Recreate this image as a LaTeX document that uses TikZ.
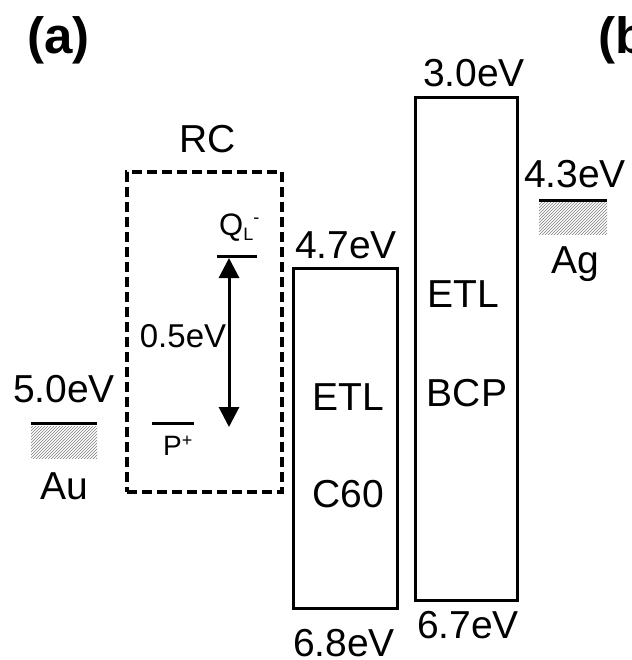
\documentclass[tikz,border=0pt]{standalone}
\usepackage{fontspec}
\setmainfont{Liberation Sans}
\usetikzlibrary{arrows.meta,patterns}
\begin{document}
\begin{tikzpicture}[x=1pt,y=-1pt,
  lbl/.style={inner sep=0pt, anchor=base, font=\fontsize{39}{39}\selectfont},
  lblsm/.style={inner sep=0pt, anchor=base, font=\fontsize{33}{33}\selectfont},
  layer/.style={draw, line width=3pt, inner sep=0pt, outer sep=0pt},
  rcbox/.style={draw, line width=3.5pt, dash pattern=on 10pt off 5pt, inner sep=0pt, outer sep=0pt},
  level/.style={line width=3pt},
  hatch/.style={pattern=north east lines, pattern color=black!50, draw=none},
  dblarrow/.style={line width=3pt, {Triangle[width=20pt,length=20pt]}-{Triangle[width=20pt,length=20pt]}},
]
\clip (0,0) rectangle (631,660);
\fill[white] (0,0) rectangle (631,660);

% panel labels
\node[inner sep=0pt, anchor=base, font=\fontsize{51}{51}\selectfont\bfseries] (lbla) at (58.5,54) {(a)};
\node[inner sep=0pt, anchor=base west, font=\fontsize{51}{51}\selectfont\bfseries] (lblb) at (598,54) {(b)};

% Au electrode
\coordinate (auL) at (31,423);
\coordinate (auR) at (97,423);
\fill[hatch] (31,426) rectangle (97,458);
\draw[level] (auL) -- (auR);
\node[lbl] (au) at (64,402) {5.0eV};
\node[lbl] (aun) at (64,499) {Au};

% RC box
\node[rcbox, minimum width=155pt, minimum height=320pt] (rc) at (204.5,332) {};
\node[lbl] (rclbl) at (208,153) {RC};
\coordinate (qL) at (217,256);
\coordinate (qR) at (257,256);
\draw[level] (qL) -- (qR);
\node[inner sep=0pt, anchor=base west] (qlbl) at (219,235)
  {{\fontsize{31}{31}\selectfont Q}\raisebox{-5pt}{\fontsize{18}{18}\selectfont L}\raisebox{12pt}{\fontsize{18}{18}\selectfont -}};
\coordinate (pL) at (152,423);
\coordinate (pR) at (194,423);
\draw[level] (pL) -- (pR);
\node[inner sep=0pt, anchor=base west] (plbl) at (163,455)
  {{\fontsize{28}{28}\selectfont P}\raisebox{9pt}{\fontsize{18}{18}\selectfont +}};
\coordinate (atop) at (229,258);
\coordinate (abot) at (229,427);
\draw[dblarrow] (atop) -- (abot);
\node[lblsm] (gap) at (183,347) {0.5eV};

% C60 layer
\node[layer, minimum width=104pt, minimum height=340pt] (c60) at (345,438) {};
\node[lbl] (c60t) at (346,258) {4.7eV};
\node[lbl] (c60b) at (344,656) {6.8eV};
\node[lbl] (c60a) at (348,410) {ETL};
\node[lbl] (c60n) at (348,507) {C60};

% BCP layer
\node[layer, minimum width=102pt, minimum height=502pt] (bcp) at (466,349) {};
\node[lbl] (bcpt) at (474,87) {3.0eV};
\node[lbl] (bcpb) at (468,638) {6.7eV};
\node[lbl] (bcpa) at (463,307) {ETL};
\node[lbl] (bcpn) at (467,406) {BCP};

% Ag electrode
\coordinate (agL) at (539,201);
\coordinate (agR) at (607,201);
\fill[hatch] (539,203) rectangle (607,234);
\draw[level] (agL) -- (agR);
\node[lbl] (ag) at (575,188) {4.3eV};
\node[lbl] (agn) at (575,273) {Ag};
\end{tikzpicture}
\end{document}
